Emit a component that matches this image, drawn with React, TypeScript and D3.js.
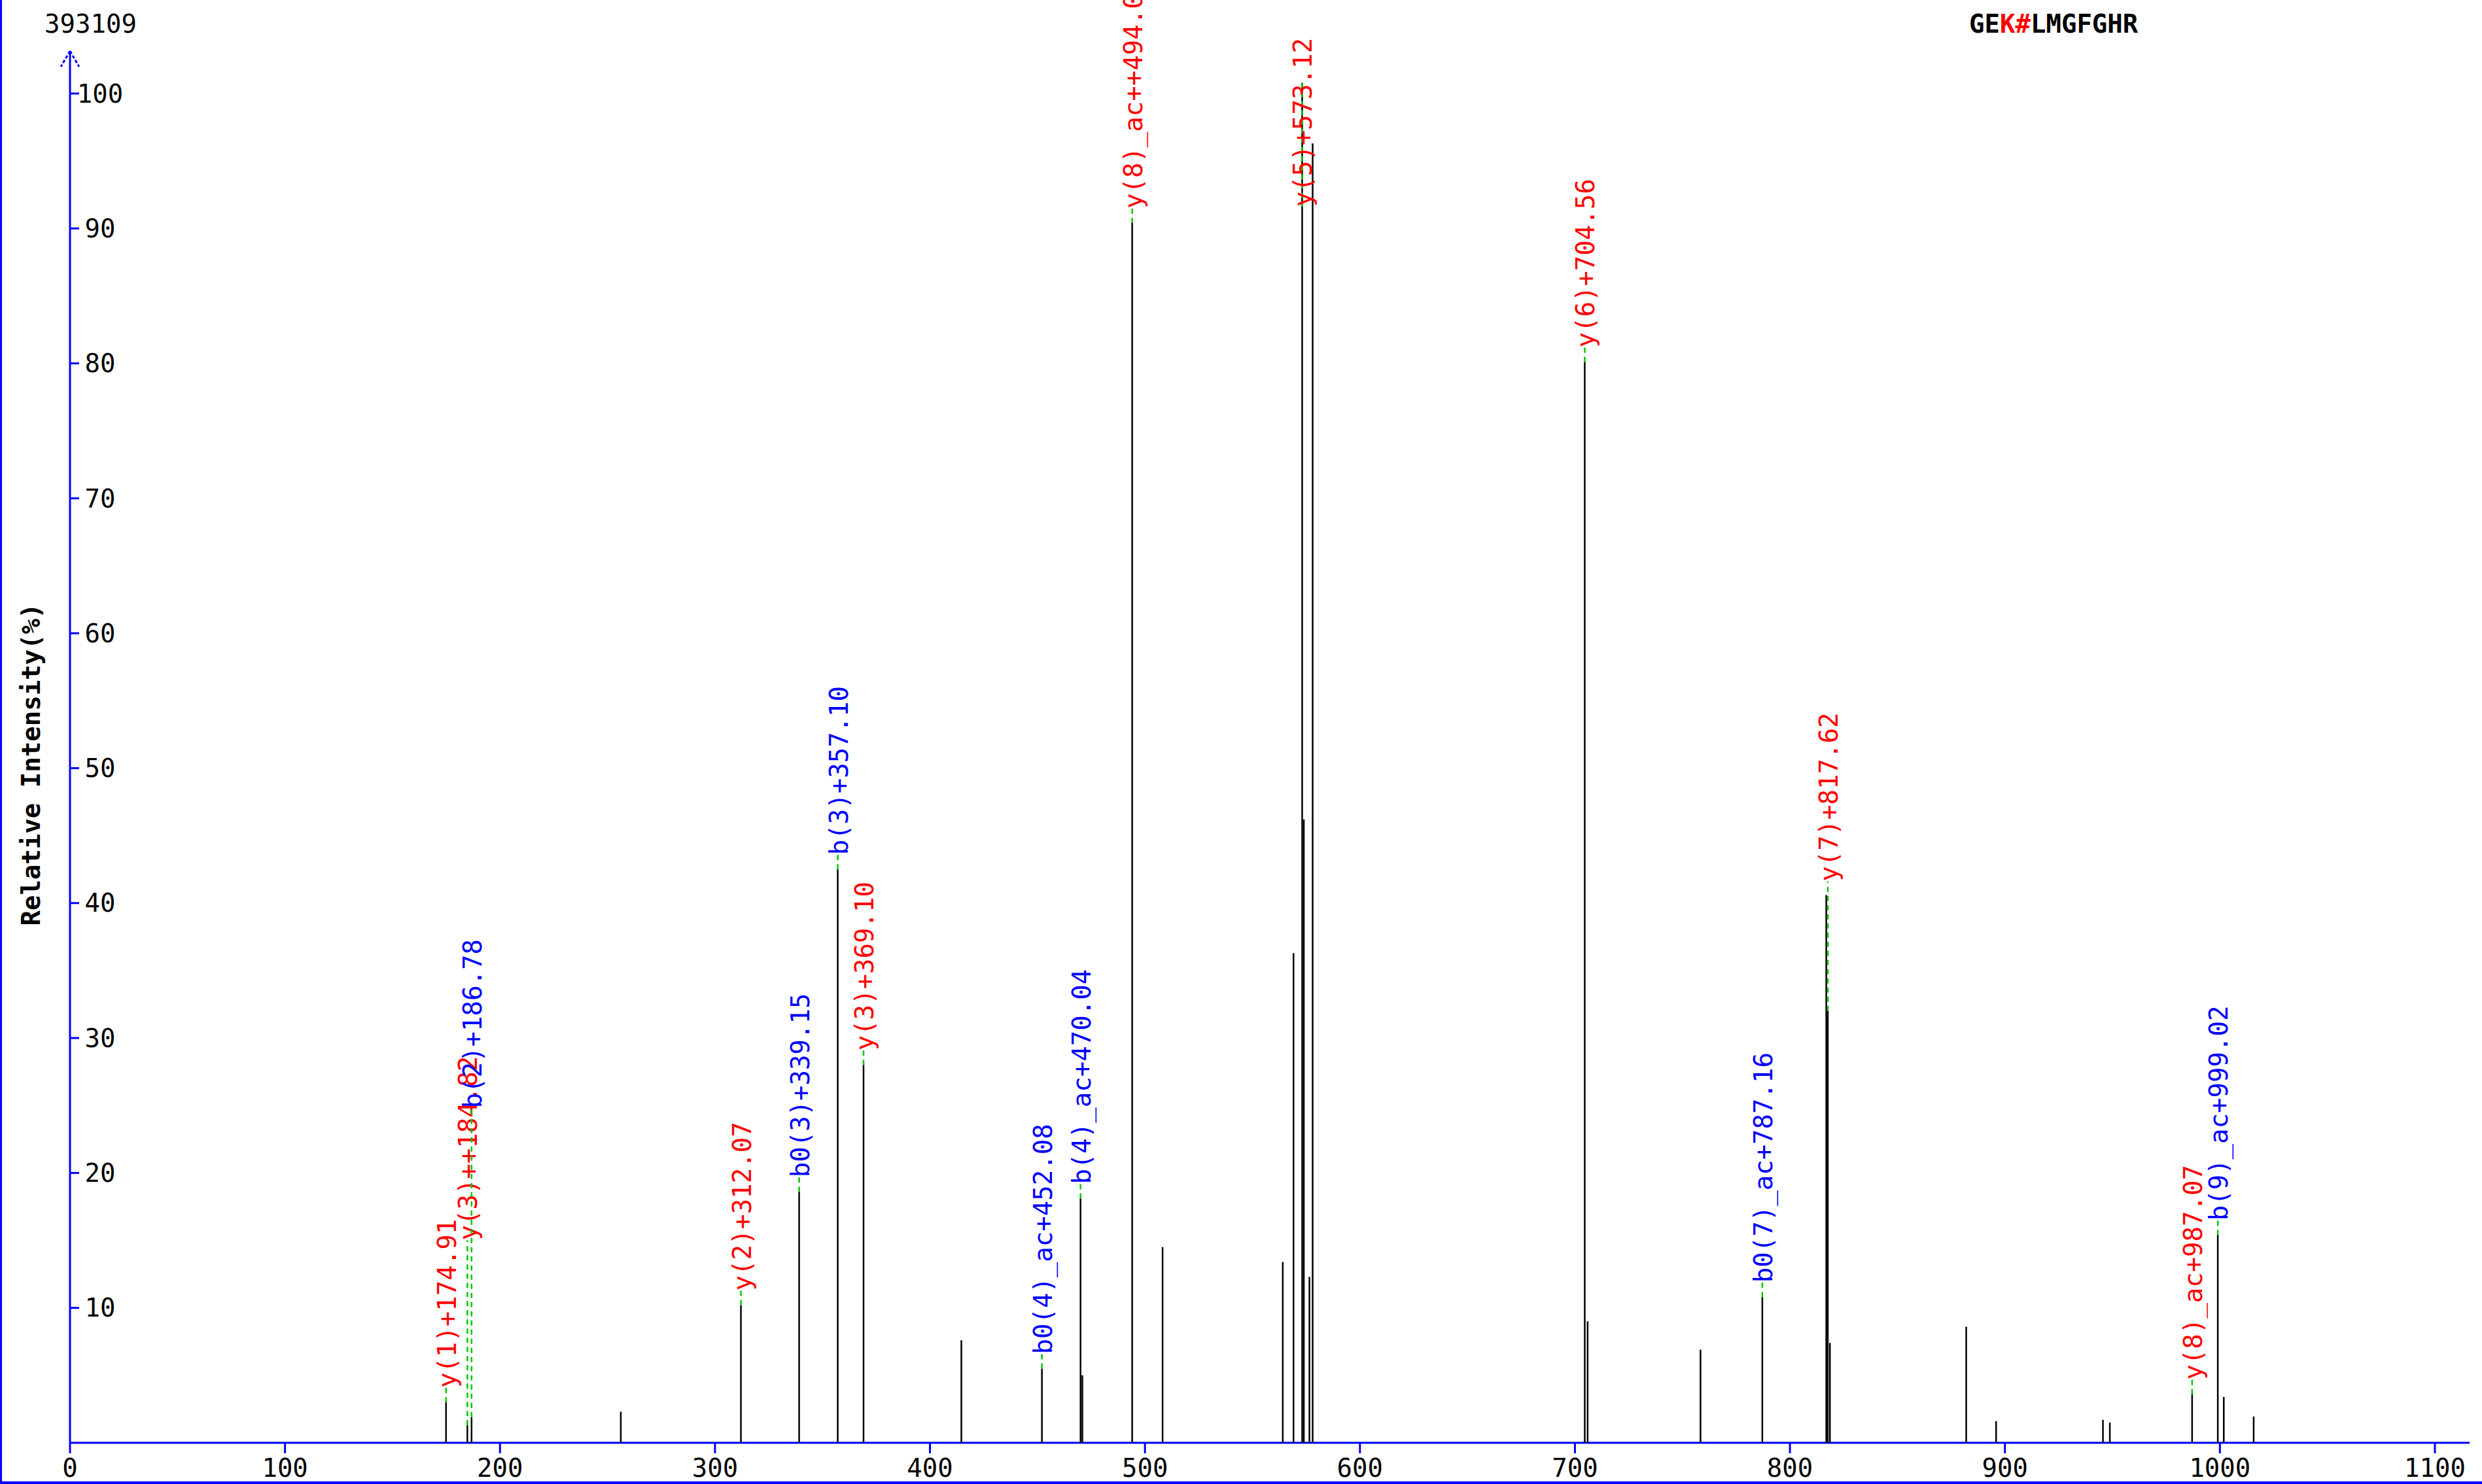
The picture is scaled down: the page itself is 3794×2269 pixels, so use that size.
import React from "react";
import * as d3 from "d3";

const W = 3794;
const H = 2269;

const topIntensity = "393109";
const peptideParts = [
  { text: "GE", mod: false },
  { text: "K#", mod: true },
  { text: "LMGFGHR", mod: false },
];
const yAxisTitle = "Relative Intensity(%)";

const xTicks = [0, 100, 200, 300, 400, 500, 600, 700, 800, 900, 1000, 1100];
const yTicks = [10, 20, 30, 40, 50, 60, 70, 80, 90, 100];

// unannotated peaks
const peakMz = [256.2, 414.6, 470.9, 508.2, 564.1, 569.1, 573.9, 576.5, 578.0, 705.9, 758.4, 816.9, 818.6, 882.0, 895.9, 945.6, 948.8, 1001.8, 1015.7];
const peakIntensity = [2.3, 7.6, 5.0, 14.5, 13.4, 36.3, 46.2, 12.3, 96.3, 9.0, 6.9, 40.6, 7.4, 8.6, 1.6, 1.7, 1.5, 3.4, 1.95];

// annotated peaks
const ionMz = [174.91, 184.82, 186.78, 312.07, 339.15, 357.1, 369.1, 452.08, 470.04, 494.06, 573.12, 704.56, 787.16, 817.62, 987.07, 999.02];
const ionIntensity = [3.0, 1.3, 1.9, 10.2, 18.6, 42.5, 28.0, 5.5, 18.1, 90.4, 100.8, 80.1, 10.8, 32.0, 3.6, 15.4];
const ionLabel = [
  "y(1)+174.91",
  "y(3)++184.82",
  "b(2)+186.78",
  "y(2)+312.07",
  "b0(3)+339.15",
  "b(3)+357.10",
  "y(3)+369.10",
  "b0(4)_ac+452.08",
  "b(4)_ac+470.04",
  "y(8)_ac++494.06",
  "y(5)+573.12",
  "y(6)+704.56",
  "b0(7)_ac+787.16",
  "y(7)+817.62",
  "y(8)_ac+987.07",
  "b(9)_ac+999.02",
];
const ionType = ["y", "y", "b", "y", "b", "b", "y", "b", "b", "y", "y", "y", "b", "y", "y", "b"];
// label start level (% intensity) when shifted; null = just above the peak
const ionLabelLevel = [null, 15.0, 24.8, null, null, null, null, null, null, null, 91.6, null, null, 41.6, null, null];

const FONT = "'DejaVu Sans Mono', 'Liberation Mono', monospace";
const BLUE = "#0000ff";
const RED = "#ff0000";
const GREEN = "#00c800";

export default function App() {
  const x = d3.scaleLinear().domain([0, 1100]).range([107, 3722]);
  const y = d3.scaleLinear().domain([0, 100]).range([2206, 143]);
  const x0 = x(0);
  const y0 = y(0);

  return (
    <svg
      width={W}
      height={H}
      style={{ position: "absolute", left: 0, top: 0, background: "#fff" }}
      fontFamily={FONT}
    >
      <rect x={0} y={0} width={W} height={H} fill="#fff" />
      {/* frame */}
      <line x1={1.5} y1={0} x2={1.5} y2={H} stroke={BLUE} strokeWidth={3} />
      <line x1={0} y1={H - 2} x2={W} y2={H - 2} stroke={BLUE} strokeWidth={4} />

      {/* header texts */}
      <text x={68} y={50} fontSize={39} fill="#000">
        {topIntensity}
      </text>
      <text x={3010} y={50} fontSize={39} fontWeight="bold" fill="#000">
        {peptideParts.map((p, i) => (
          <tspan key={i} fill={p.mod ? RED : "#000"}>
            {p.text}
          </tspan>
        ))}
      </text>

      {/* y axis title */}
      <text
        transform={`translate(61, 1169) rotate(-90)`}
        textAnchor="middle"
        fontSize={39}
        fontWeight="bold"
        fill="#000"
      >
        {yAxisTitle}
      </text>

      {/* y axis */}
      <line x1={x0} y1={y0} x2={x0} y2={78} stroke={BLUE} strokeWidth={3} />
      <line x1={x0} y1={78} x2={x0 - 14} y2={102} stroke={BLUE} strokeWidth={3} strokeDasharray="5 3" />
      <line x1={x0} y1={78} x2={x0 + 14} y2={102} stroke={BLUE} strokeWidth={3} strokeDasharray="5 3" />
      {yTicks.map((t) => (
        <g key={`yt${t}`}>
          <line x1={x0} y1={y(t)} x2={x0 + 14} y2={y(t)} stroke={BLUE} strokeWidth={3} />
          <text x={153} y={y(t)} dy="0.35em" textAnchor="middle" fontSize={39} fill="#000">
            {t}
          </text>
        </g>
      ))}

      {/* x axis */}
      <line x1={x0} y1={y0} x2={3775} y2={y0} stroke={BLUE} strokeWidth={3} />
      {xTicks.map((t) => (
        <g key={`xt${t}`}>
          <line x1={x(t)} y1={y0} x2={x(t)} y2={y0 + 16} stroke={BLUE} strokeWidth={3} />
          <text x={x(t)} y={2244} dy="0.35em" textAnchor="middle" fontSize={39} fill="#000">
            {t}
          </text>
        </g>
      ))}

      {/* peaks */}
      {peakMz.map((m, i) => (
        <line key={`p${i}`} x1={x(m)} y1={y0} x2={x(m)} y2={y(peakIntensity[i])} stroke="#000" strokeWidth={2.5} />
      ))}
      {ionMz.map((m, i) => (
        <line key={`ip${i}`} x1={x(m)} y1={y0} x2={x(m)} y2={y(ionIntensity[i])} stroke="#000" strokeWidth={2.5} />
      ))}

      {/* annotations */}
      {ionMz.map((m, i) => {
        const px = x(m);
        const top = y(ionIntensity[i]);
        const lvl = ionLabelLevel[i];
        const start = lvl == null ? top - 22 : y(lvl);
        const color = ionType[i] === "y" ? RED : BLUE;
        return (
          <g key={`a${i}`}>
            <line x1={px} y1={top} x2={px} y2={start} stroke={GREEN} strokeWidth={2.5} strokeDasharray="8 6" />
            <text
              transform={`translate(${px + 15}, ${start}) rotate(-90)`}
              fontSize={39}
              fill={color}
            >
              {ionLabel[i]}
            </text>
          </g>
        );
      })}
    </svg>
  );
}
